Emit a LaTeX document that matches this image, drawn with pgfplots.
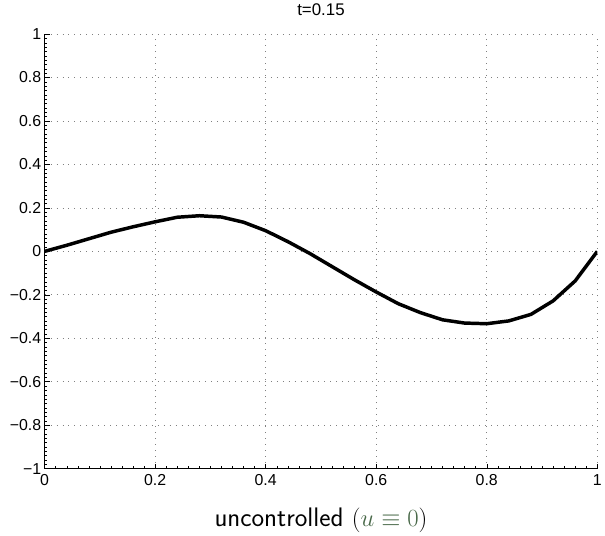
\documentclass[border=0pt]{standalone}
\usepackage{fontspec}
\setmainfont{Liberation Sans}
\usepackage{pgfplots}
\pgfplotsset{compat=1.18}
\usetikzlibrary{calc}
\definecolor{labgreen}{RGB}{72,104,72}

\begin{document}
\begin{tikzpicture}
\begin{axis}[
  scale only axis, width=557pt, height=438pt,
  xmin=0, xmax=1, ymin=-1, ymax=1,
  axis lines*=left,
  axis line style={black, line width=0.7pt},
  tick align=inside,
  major tick length=5pt, minor tick length=2.5pt,
  minor x tick num=9, minor y tick num=9,
  tick style={black, line width=0.5pt},
  grid=major, grid style={black!50, line width=0.8pt, dash pattern=on 0.8pt off 5.2pt},
  xtick={0,0.2,0.4,0.6,0.8,1},
  xticklabels={0,0.2,0.4,0.6,0.8,1},
  ytick={-1,-0.8,-0.6,-0.4,-0.2,0,0.2,0.4,0.6,0.8,1},
  yticklabels={−1,−0.8,−0.6,−0.4,−0.2,0,0.2,0.4,0.6,0.8,1},
  tick label style={font=\fontsize{16}{16}\selectfont},
  xticklabel style={yshift=-2pt},
  title={t=0.15},
  title style={font=\fontsize{17}{17}\selectfont,
    at={(axis description cs:0.5,1)}, anchor=center, yshift=19pt},
  xlabel={\fontsize{27}{29}\selectfont\sffamily uncontrolled $(\textcolor{labgreen}{u\equiv 0})$},
  xlabel style={at={(axis description cs:0.5,0)}, anchor=center, yshift=-52pt},
]
\addplot[black, line width=3.5pt, line join=round] coordinates {
  (0,0) (0.04,0.028) (0.08,0.058) (0.12,0.088) (0.16,0.113)
  (0.2,0.136) (0.24,0.157) (0.28,0.164) (0.32,0.158) (0.36,0.134)
  (0.4,0.095) (0.44,0.045) (0.48,-0.01) (0.52,-0.07) (0.56,-0.13)
  (0.6,-0.187) (0.64,-0.241) (0.68,-0.282) (0.72,-0.315) (0.76,-0.33)
  (0.8,-0.333) (0.84,-0.32) (0.88,-0.29) (0.92,-0.228) (0.96,-0.136)
  (1,0)
};
\end{axis}
\path ($(current axis.south west)+(-45pt,-67pt)$) rectangle ($(current axis.north east)+(3pt,34pt)$);
\end{tikzpicture}
\end{document}
